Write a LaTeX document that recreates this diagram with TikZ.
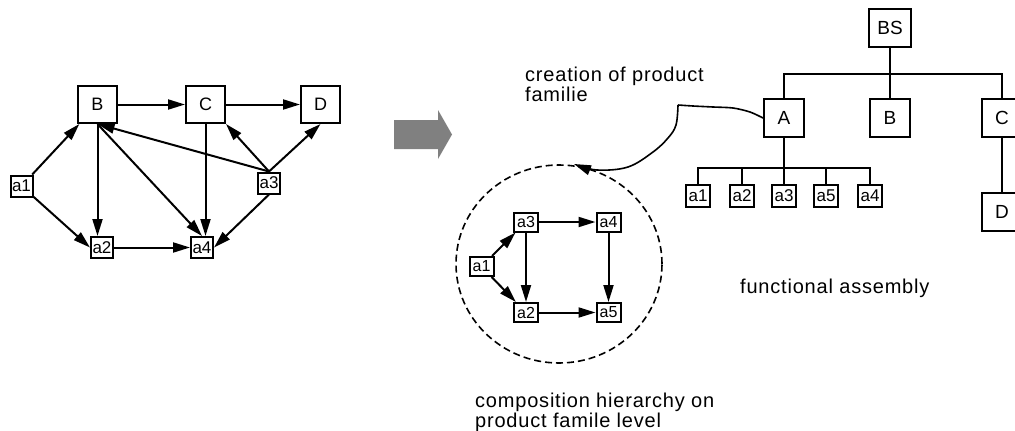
\documentclass[tikz,border=0pt]{standalone}
\usepackage{fontspec}
\setmainfont{Liberation Sans}
\usetikzlibrary{arrows.meta,shadows}
\begin{document}
\begin{tikzpicture}[x=1pt,y=-1pt,
  lw/.style={line width=2pt},
  box/.style={draw, lw, fill=white, inner sep=0pt},
  bigbox/.style={box, minimum width=39pt, minimum height=37pt, font=\fontsize{18}{20}\selectfont},
  treebox/.style={box, minimum width=40pt, minimum height=38pt, font=\fontsize{19}{22}\selectfont},
  smallbox/.style={box, minimum width=22pt, minimum height=21pt, font=\fontsize{17}{20}\selectfont,
    drop shadow={shadow xshift=1pt, shadow yshift=-1pt, fill=black, opacity=1}},
  leafbox/.style={smallbox, minimum width=24pt, minimum height=22pt},
  innerbox/.style={smallbox, minimum width=24pt, minimum height=19pt, font=\fontsize{16}{19}\selectfont},
  tip/.style={-{Triangle[length=17pt,width=10pt]}},
  conn/.style={lw, tip},
  tree/.style={lw},
  curve/.style={line width=1.6pt},
  label/.style={anchor=base west, inner sep=0pt,
    font=\fontsize{20}{20}\selectfont\addfontfeature{LetterSpace=4}}]

\useasboundingbox (0,0) rectangle (1015,431);
\clip (0,0) rectangle (1015,431);

% ---------- dependency graph on the left ----------
\node[bigbox] (lB) at (97.5,104.5) {B};
\node[bigbox] (lC) at (205.5,104.5) {C};
\node[bigbox] (lD) at (320.5,104.5) {D};
\node[smallbox] (la1) at (21.5,186) {a1};
\node[smallbox] (la3) at (269,183) {a3};
\node[smallbox] (la2) at (102,247.5) {a2};
\node[smallbox] (la4) at (202,247.5) {a4};

\draw[conn] (lB) -- (lC);
\draw[conn] (lC) -- (lD);
\draw[conn] (la1) -- (lB);
\draw[conn] (la1) -- (la2.west);
\draw[conn] (lB.south) -- (lB.south |- la2.north);
\draw[conn] (lB.south) -- (la4.north);
\draw[conn] (lC.south) -- (lC.south |- la4.north);
\draw[conn] (la2) -- (la4);
\draw[conn] (la3.north) -- (lB.south);
\draw[conn] (la3.north) -- (lC.south east);
\draw[conn] (la3.north) -- (lD.south);
\draw[conn] (la3.south) -- (la4.east);

% ---------- transformation arrow ----------
\fill[gray] (394,120) -- (438,120) -- (438,110) -- (452,134.5) -- (438,159)
  -- (438,149) -- (394,149) -- cycle;

% ---------- functional assembly tree ----------
\node[treebox, minimum width=42pt] (BS) at (890,28) {BS};
\node[treebox] (tA) at (784,118) {A};
\node[treebox] (tB) at (890,118) {B};
\node[treebox] (tC) at (1002,118) {C};
\node[treebox] (tD) at (1002,211.5) {D};
\coordinate (topbar) at (890,74);
\draw[tree] (BS) -- (tB);
\draw[tree] (tA.north) |- (topbar) -| (tC.north);
\draw[tree] (tC) -- (tD);

\node[leafbox] (ts1) at (698,196) {a1};
\node[leafbox] (ts2) at (742,196) {a2};
\node[leafbox] (ts3) at (784,196) {a3};
\node[leafbox] (ts4) at (826,196) {a5};
\node[leafbox] (ts5) at (870,196) {a4};
\coordinate (subbar) at (784,168);
\draw[tree] (tA) -- (ts3);
\draw[tree] (ts1.north) |- (subbar) -| (ts5.north);
\draw[tree] (ts2.north) -- (ts2.north |- subbar);
\draw[tree] (ts4.north) -- (ts4.north |- subbar);

% ---------- product family link ----------
\coordinate (bend) at (678,105);
\coordinate (famtip) at (574,164);
\draw[curve] plot[smooth, tension=0.5] coordinates
  {(tA.west) (750,112) (733,108) (713,107) (693,106) (bend)};
\draw[curve, tip] plot[smooth, tension=0.6] coordinates
  {(bend) (676,125) (668,138) (653,152) (628,167) (597,170) (famtip)};

% ---------- composition hierarchy ----------
\draw[line width=1.6pt, dash pattern=on 7pt off 4pt]
  (559,264) ellipse [x radius=103pt, y radius=99pt];

\node[innerbox] (ia3) at (526,222) {a3};
\node[innerbox] (ia4) at (608.5,222) {a4};
\node[innerbox] (ia1) at (481.5,266.5) {a1};
\node[innerbox] (ia2) at (526,312.5) {a2};
\node[innerbox] (ia5) at (608.5,312.5) {a5};
\draw[conn] (ia3) -- (ia4);
\draw[conn] (ia4) -- (ia5);
\draw[conn] (ia3) -- (ia2);
\draw[conn] (ia2) -- (ia5);
\draw[conn] (ia1) -- (ia3);
\draw[conn] (ia1) -- (ia2);

% ---------- captions ----------
\node[label] (cap1a) at (525,81) {creation of product};
\node[label] (cap1b) at (525,101) {familie};
\node[label] (cap2) at (740,293) {functional assembly};
\node[label] (cap3a) at (475,407) {composition hierarchy on};
\node[label] (cap3b) at (475,427) {product famile level};
\end{tikzpicture}
\end{document}
